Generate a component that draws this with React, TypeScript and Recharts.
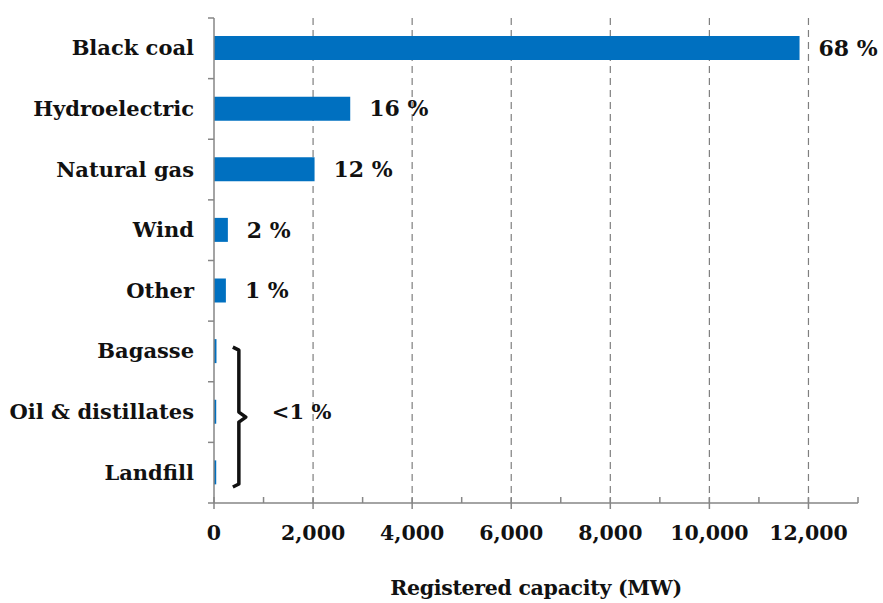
import { BarChart, Bar, XAxis, YAxis, CartesianGrid, LabelList, ReferenceArea } from "recharts";

const categories = ["Black coal", "Hydroelectric", "Natural gas", "Wind", "Other", "Bagasse", "Oil & distillates", "Landfill"];
const capacityMW = [11820, 2750, 2030, 280, 240, 50, 45, 45];
const shareLabels = ["68 %", "16 %", "12 %", "2 %", "1 %", "", "", ""];
const xTicks = [0, 1000, 2000, 3000, 4000, 5000, 6000, 7000, 8000, 9000, 10000, 11000, 12000, 13000];
const gridValues = [2000, 4000, 6000, 8000, 10000, 12000];
const smallGroupLabel = "<1 %";

const W = 883;
const H = 603;
const MARGIN = { top: 18, right: 25, bottom: 0, left: 0 };
const X_AXIS_H = 100;
const BAND = (H - MARGIN.top - MARGIN.bottom - X_AXIS_H) / categories.length;

const FONT = "'DejaVu Serif', serif";
const AXIS_COLOR = "#868686";
const BAR_COLOR = "#0070C0";
const INK = "#111";

const data = categories.map((name, i) => ({ name, mw: capacityMW[i], share: shareLabels[i] }));

const CategoryTick = (props: any) => {
  const { x, y, payload, index } = props;
  const axisX = x + 20;
  const last = index === categories.length - 1;
  return (
    <g>
      <line x1={axisX - 6} x2={axisX} y1={y - BAND / 2} y2={y - BAND / 2} stroke={AXIS_COLOR} strokeWidth={1.5} />
      {last && <line x1={axisX - 6} x2={axisX} y1={y + BAND / 2} y2={y + BAND / 2} stroke={AXIS_COLOR} strokeWidth={1.5} />}
      <text x={x} y={y} dy={7} textAnchor="end" fontFamily={FONT} fontWeight="bold" fontSize={21} fill={INK}>
        {payload.value}
      </text>
    </g>
  );
};

const ValueTick = (props: any) => {
  const { x, y, payload } = props;
  const v = payload.value as number;
  const major = v % 2000 === 0;
  return (
    <g>
      <line x1={x} x2={x} y1={y - 6} y2={major ? y + 6 : y} stroke={AXIS_COLOR} strokeWidth={1.5} />
      {major && v <= 12000 && (
        <text x={x} y={y + 37} textAnchor="middle" fontFamily={FONT} fontWeight="bold" fontSize={20.5} fill={INK}>
          {v.toLocaleString("en-US")}
        </text>
      )}
    </g>
  );
};

// bracket grouping the three smallest sources
const GroupBracket = (props: any) => {
  const { x, y, height } = props;
  const top = y + 26;
  const bottom = y + height - 16;
  const mid = (top + bottom) / 2;
  const bx = x + 10;
  return (
    <g>
      <path
        d={`M ${bx - 6} ${top} L ${bx} ${top + 3} L ${bx} ${mid - 5} L ${bx + 7} ${mid} L ${bx} ${mid + 5} L ${bx} ${bottom - 3} L ${bx - 6} ${bottom}`}
        fill="none"
        stroke={INK}
        strokeWidth={3.5}
        strokeLinejoin="round"
      />
      <text x={bx + 33} y={mid} dy={2} fontFamily={FONT} fontWeight="bold" fontSize={21} fill={INK}>
        {smallGroupLabel}
      </text>
    </g>
  );
};

export default function App() {
  return (
    <div style={{ position: "absolute", left: 0, top: 0, background: "#fff" }}>
      <BarChart width={W} height={H} data={data} layout="vertical" margin={MARGIN} barSize={24}>
        <CartesianGrid
          horizontal={false}
          verticalValues={gridValues}
          stroke="#7f7f7f"
          strokeDasharray="7 5"
          strokeWidth={1.2}
        />
        <XAxis
          type="number"
          domain={[0, 13000]}
          ticks={xTicks}
          interval={0}
          tickLine={false}
          tickSize={0}
          tickMargin={0}
          tick={<ValueTick />}
          height={X_AXIS_H}
          axisLine={{ stroke: AXIS_COLOR, strokeWidth: 1.5 }}
          label={{
            value: "Registered capacity (MW)",
            position: "insideBottom",
            offset: 8,
            style: { fontFamily: FONT, fontWeight: "bold", fontSize: 20.5, fill: INK, letterSpacing: -0.3 },
          }}
        />
        <YAxis
          type="category"
          dataKey="name"
          width={214}
          interval={0}
          tickLine={false}
          tickSize={0}
          tickMargin={20}
          tick={<CategoryTick />}
          axisLine={{ stroke: AXIS_COLOR, strokeWidth: 1.5 }}
        />
        <Bar dataKey="mw" fill={BAR_COLOR} isAnimationActive={false}>
          <LabelList
            dataKey="share"
            position="right"
            offset={19}
            style={{ fontFamily: FONT, fontWeight: "bold", fontSize: 22, fill: INK }}
          />
        </Bar>
        <ReferenceArea x1={300} x2={1500} y1="Bagasse" y2="Landfill" shape={<GroupBracket />} />
      </BarChart>
    </div>
  );
}
